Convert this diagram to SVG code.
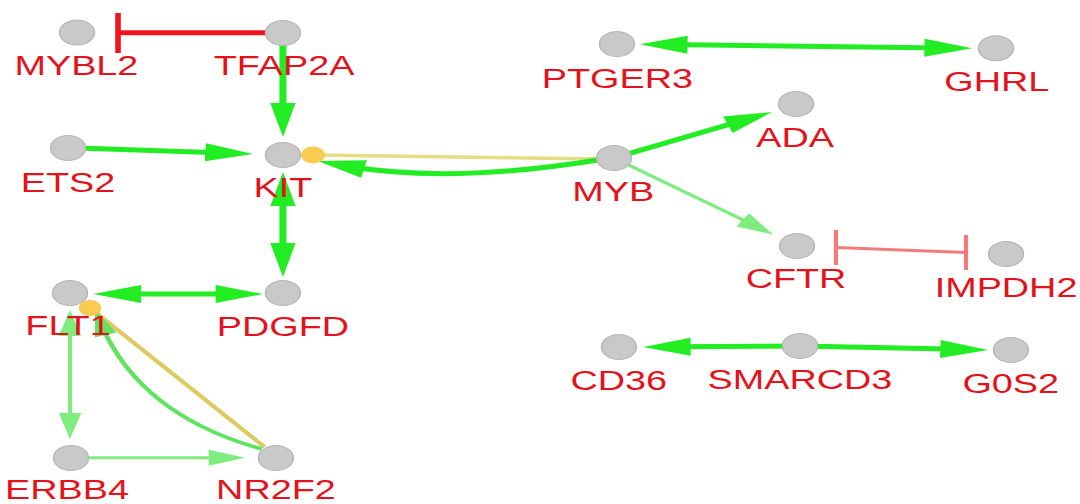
<svg xmlns="http://www.w3.org/2000/svg" width="1080" height="504" viewBox="0 0 1080 504">
<style>
.node ellipse{fill:#c9c9c9;stroke:#b6b6b6;stroke-width:1}
.node text{font-family:"Liberation Sans",Arial,sans-serif;font-size:27px;fill:#e5121b;text-anchor:middle}
.e{fill:none;stroke-linecap:butt}
.g{stroke:#22ec22;stroke-width:5}
.lg{stroke:#7eec7e;stroke-width:3}
.mg{stroke:#5fe45f;stroke-width:3.5}
.y1{stroke:#e6dc80;stroke-width:3.5}
.y2{stroke:#dccb62;stroke-width:3.5}
.r{stroke:#f0141e;stroke-width:5}
.rl{stroke:#f27c7c;stroke-width:3}
.dot{fill:#f9cb50}
</style>
<defs>
<marker id="arrG" markerUnits="userSpaceOnUse" markerWidth="36" markerHeight="20" refX="14" refY="9" orient="auto-start-reverse" overflow="visible"><path d="M0,0 L34,9 L0,18 Z" fill="#22ec22"/></marker>
<marker id="arrL" markerUnits="userSpaceOnUse" markerWidth="28" markerHeight="18" refX="12" refY="8" orient="auto-start-reverse" overflow="visible"><path d="M0,0 L26,8 L0,16 Z" fill="#7eec7e"/></marker>
<marker id="arrM" markerUnits="userSpaceOnUse" markerWidth="28" markerHeight="18" refX="12" refY="8" orient="auto-start-reverse" overflow="visible"><path d="M0,0 L26,8 L0,16 Z" fill="#5fe45f"/></marker>
</defs>
<rect width="1080" height="504" fill="#ffffff"/>
<g transform="scale(1.4,1)">
<g id="connectors">
<!-- TFAP2A inhibits MYBL2 -->
<line class="e r" x1="189.6" y1="32.7" x2="84.3" y2="32.7"/>
<line class="e r" x1="84.3" y1="13" x2="84.3" y2="53" style="stroke-width:4"/>
<!-- TFAP2A -> KIT -->
<line class="e g" x1="202.1" y1="45.5" x2="202.1" y2="117" marker-end="url(#arrG)"/>
<!-- ETS2 -> KIT -->
<line class="e g" x1="61.1" y1="148.3" x2="160.7" y2="153" marker-end="url(#arrG)"/>
<!-- KIT <-> PDGFD -->
<line class="e g" x1="202.1" y1="192" x2="202.1" y2="257" marker-start="url(#arrG)" marker-end="url(#arrG)"/>
<!-- FLT1 <-> PDGFD -->
<line class="e g" x1="86.7" y1="294" x2="168" y2="294" marker-start="url(#arrG)" marker-end="url(#arrG)"/>
<!-- FLT1 <-> ERBB4 -->
<line class="e lg" x1="50" y1="324" x2="50" y2="425" marker-start="url(#arrL)" marker-end="url(#arrL)"/>
<!-- ERBB4 -> NR2F2 -->
<line class="e lg" x1="63.2" y1="457.7" x2="161" y2="457.7" marker-end="url(#arrL)"/>
<!-- NR2F2 - FLT1 (yellow) -->
<line class="e y2" x1="189" y1="447" x2="64.3" y2="308"/>
<!-- NR2F2 -> FLT1 (curved) -->
<path class="e mg" d="M187,449 Q100,415 72,323.4" marker-end="url(#arrM)"/>
<!-- MYB - KIT (yellow) -->
<line class="e y1" x1="223.6" y1="155" x2="432" y2="159"/>
<!-- MYB -> KIT (curved) -->
<path class="e g" d="M427,160 Q321,184 246.4,165.8" marker-end="url(#arrG)"/>
<!-- MYB -> ADA -->
<line class="e g" x1="450.1" y1="153.2" x2="532.9" y2="119.5" marker-end="url(#arrG)"/>
<!-- MYB -> CFTR -->
<line class="e lg" x1="449" y1="165" x2="540.5" y2="226.6" marker-end="url(#arrL)"/>
<!-- PTGER3 <-> GHRL -->
<line class="e g" x1="477.1" y1="44.6" x2="674.3" y2="48" marker-start="url(#arrG)" marker-end="url(#arrG)"/>
<!-- CFTR -| |- IMPDH2 -->
<line class="e rl" x1="597.1" y1="247.5" x2="690" y2="252.5"/>
<line class="e rl" x1="597.1" y1="230" x2="597.1" y2="265"/>
<line class="e rl" x1="690" y1="235" x2="690" y2="270"/>
<!-- SMARCD3 -> CD36, SMARCD3 -> G0S2 -->
<line class="e g" x1="571.4" y1="346" x2="479.3" y2="346.8" marker-end="url(#arrG)"/>
<line class="e g" x1="571.4" y1="346" x2="685.7" y2="349.3" marker-end="url(#arrG)"/>
</g>
<g id="n-MYBL2" class="node"><ellipse cx="55" cy="32.5" rx="12.5" ry="12.5"/><text x="54.6" y="75">MYBL2</text></g>
<g id="n-TFAP2A" class="node"><ellipse cx="202.1" cy="33" rx="12.5" ry="12.5"/><text x="202.9" y="75">TFAP2A</text></g>
<g id="n-ETS2" class="node"><ellipse cx="48.6" cy="148" rx="12.5" ry="12.5"/><text x="48.6" y="192">ETS2</text></g>
<g id="n-KIT" class="node"><ellipse cx="202.1" cy="155" rx="12.5" ry="12.5"/><text x="202.1" y="197">KIT</text></g>
<g id="n-FLT1" class="node"><ellipse cx="50" cy="293" rx="12.5" ry="12.5"/><text x="48.6" y="335">FLT1</text></g>
<g id="n-PDGFD" class="node"><ellipse cx="202.1" cy="293" rx="12.5" ry="12.5"/><text x="202.1" y="336">PDGFD</text></g>
<g id="n-ERBB4" class="node"><ellipse cx="50.7" cy="458" rx="12.5" ry="12.5"/><text x="47.9" y="499">ERBB4</text></g>
<g id="n-NR2F2" class="node"><ellipse cx="197.1" cy="458" rx="12.5" ry="12.5"/><text x="197.1" y="499">NR2F2</text></g>
<g id="n-PTGER3" class="node"><ellipse cx="440.7" cy="44" rx="12.5" ry="12.5"/><text x="441" y="88">PTGER3</text></g>
<g id="n-GHRL" class="node"><ellipse cx="711.4" cy="48.3" rx="12.5" ry="12.5"/><text x="712" y="91">GHRL</text></g>
<g id="n-ADA" class="node"><ellipse cx="568.6" cy="104" rx="12.5" ry="12.5"/><text x="568" y="147">ADA</text></g>
<g id="n-MYB" class="node"><ellipse cx="438.6" cy="158" rx="12.5" ry="12.5"/><text x="438" y="201">MYB</text></g>
<g id="n-CFTR" class="node"><ellipse cx="569.3" cy="246" rx="12.5" ry="12.5"/><text x="568.6" y="288">CFTR</text></g>
<g id="n-IMPDH2" class="node"><ellipse cx="718.6" cy="254" rx="12.5" ry="12.5"/><text x="718.6" y="297">IMPDH2</text></g>
<g id="n-CD36" class="node"><ellipse cx="442.1" cy="347" rx="12.5" ry="12.5"/><text x="442" y="390">CD36</text></g>
<g id="n-SMARCD3" class="node"><ellipse cx="571.4" cy="346" rx="12.5" ry="12.5"/><text x="571.4" y="389">SMARCD3</text></g>
<g id="n-G0S2" class="node"><ellipse cx="722.1" cy="350" rx="12.5" ry="12.5"/><text x="722" y="393">G0S2</text></g>
<g id="connector-ends">
<ellipse class="dot" cx="223.6" cy="155" rx="8.5" ry="8.5"/>
<ellipse class="dot" cx="64.3" cy="308" rx="8" ry="8"/>
</g>
</g>
</svg>
